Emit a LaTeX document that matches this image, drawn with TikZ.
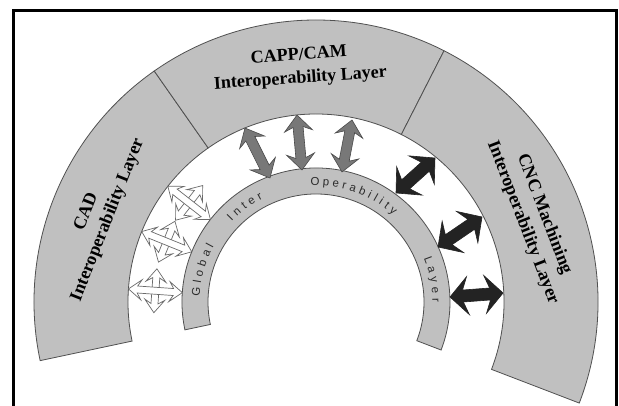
\documentclass[tikz,border=0pt]{standalone}
\usepackage{fontspec}
\setmainfont{Liberation Serif}
\newfontfamily\glfont{Liberation Sans}
\usetikzlibrary{calc}
\definecolor{bandfill}{HTML}{C0C0C0}
\definecolor{bandline}{HTML}{505050}
\definecolor{grayarrow}{HTML}{787878}
\definecolor{grayline}{HTML}{4A4A4A}
\definecolor{blackarrow}{HTML}{232323}
\definecolor{whiteline}{HTML}{6A6A6A}
\definecolor{lettercol}{HTML}{2B2B2B}
\tikzset{
  pics/dbl/.style n args={5}{code={
    \path[pic actions] (0,0) -- (#3,#2) -- ({#3-#4},#5) -- ({#1-#3+#4},#5)
      -- ({#1-#3},#2) -- (#1,0) -- ({#1-#3},-#2) -- ({#1-#3+#4},-#5)
      -- ({#3-#4},-#5) -- (#3,-#2) -- cycle;
  }},
  sector/.style={fill=bandfill, draw=bandline, line width=0.8pt},
  lbl/.style={font=\bfseries\fontsize{18}{23}\selectfont, align=center, inner sep=0pt},
  gletter/.style={font=\glfont\fontsize{11.5}{13}\selectfont, text=lettercol, anchor=base, inner sep=0pt},
  grayarr/.style={fill=grayarrow, draw=grayline, line width=0.6pt},
  blackarr/.style={fill=blackarrow, draw=blackarrow, line width=0.6pt},
  whitearr/.style={fill=white, draw=whiteline, line width=0.7pt, line join=miter},
}
\begin{document}
\begin{tikzpicture}[x=1pt,y=1pt]
\useasboundingbox (-316,-104) rectangle (303,302);
\clip (-316,-104) rectangle (303,302);
\fill[white] (-316,-104) rectangle (303,302);
% frame
\draw[line width=3pt] (-302,-130) -- (-302,291) -- (300,291) -- (300,-130);
% outer band sectors
\draw[sector] (125:188pt) arc[start angle=125, end angle=192, radius=188pt] -- (192:282pt) arc[start angle=192, end angle=125, radius=282pt] -- cycle;
\draw[sector] (63:188pt) arc[start angle=63, end angle=125, radius=188pt] -- (125:282pt) arc[start angle=125, end angle=63, radius=282pt] -- cycle;
\draw[sector] (-21:188pt) arc[start angle=-21, end angle=63, radius=188pt] -- (63:282pt) arc[start angle=63, end angle=-21, radius=282pt] -- cycle;
% global layer
\draw[sector] (-21:108pt) arc[start angle=-21, end angle=192, radius=108pt] -- (192:134pt) arc[start angle=192, end angle=-21, radius=134pt] -- cycle;
% labels
\node[lbl, rotate=4] (capp) at (94:235pt) {CAPP/CAM\\Interoperability Layer};
\node[lbl, rotate=68.5] (cad) at (158.5:235pt) {CAD\\Interoperability Layer};
\node[lbl, rotate=-69] (cnc) at (21:233pt) {CNC Machining\\Interoperability Layer};
% global layer letters
\foreach \c/\a [count=\i] in {G/175,l/170.3,o/166.1,b/161,a/156,l/151.8,
  I/135.6,n/131.2,t/126.9,e/122.5,r/118,
  O/90.5,p/85.2,e/80.5,r/76.3,a/72.1,b/67.3,i/63.3,l/60.2,i/57,t/53.7,y/49.8,
  L/20.6,a/15.5,y/10.5,e/5.5,r/0.9}
  \node[gletter, rotate=\a-90] (gl\i) at (\a:116.5pt) {\c};
% gray arrows (CAPP/CAM <-> global)
\coordinate (g1) at (-46,124);
\coordinate (g2) at (-14,132);
\coordinate (g3) at (26,130);
\pic[grayarr, rotate=116.6] at (g1) {dbl={55.9}{14}{16}{4}{5}};
\pic[grayarr, rotate=95.2] at (g2) {dbl={55.2}{14}{16}{4}{5}};
\pic[grayarr, rotate=79.1] at (g3) {dbl={53}{14}{16}{4}{5}};
% black arrows (global <-> CNC)
\coordinate (b1) at (80,109);
\coordinate (b2) at (122,55);
\coordinate (b3) at (134,5);
\pic[blackarr, rotate=41.9] at (b1) {dbl={52.4}{19}{18}{5}{6}};
\pic[blackarr, rotate=34.3] at (b2) {dbl={53.3}{19}{18}{5}{6}};
\pic[blackarr, rotate=4.3] at (b3) {dbl={53.2}{19}{18}{5}{6}};
% white crossing arrows (CAD <-> global)
\foreach \t [count=\k] in {142,158,176}{
  \coordinate (wt\k) at ($(\t:161pt)+(\t+90:22pt)$);
  \coordinate (wr\k) at (\t:134pt);
  \pic[whitearr, rotate=\t-90] at (wt\k) {dbl={44}{10}{13}{4}{3.5}};
  \pic[whitearr, rotate=\t] at (wr\k) {dbl={54}{10}{13}{4}{3.5}};
}
\end{tikzpicture}
\end{document}
